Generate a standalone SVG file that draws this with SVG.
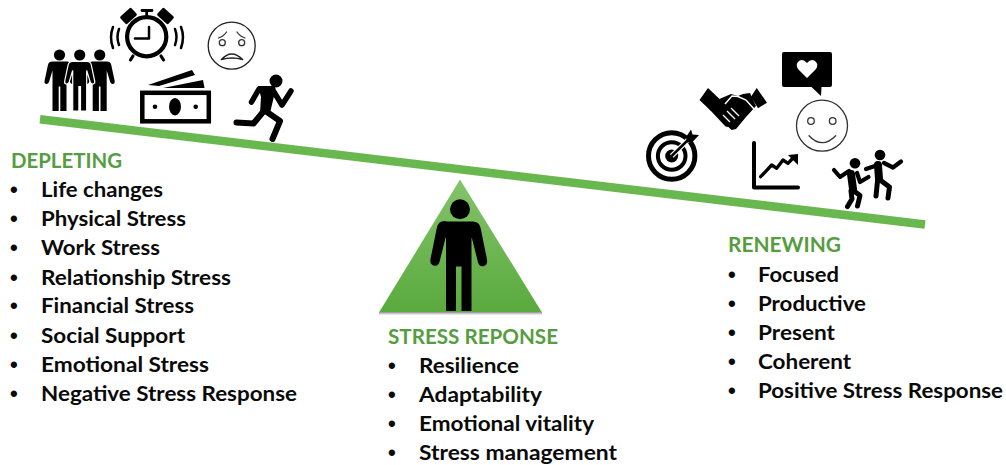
<svg xmlns="http://www.w3.org/2000/svg" width="1006" height="465" viewBox="0 0 1006 465">
<style>
text{font-family:Lato,"Liberation Sans",sans-serif;font-weight:700;font-size:20.5px;fill:#0a0a0a}
text.h{fill:#559d40}
text.b{font-family:"Liberation Sans",sans-serif;font-size:22px}
.k{fill:none;stroke:#000;stroke-linecap:round;stroke-linejoin:round}
.f{fill:#000}
.o{fill:none;stroke:#333;stroke-width:1.300;stroke-linecap:round}
</style>
<defs>
<linearGradient id="tg" x1="0" y1="0" x2="0" y2="1"><stop offset="0" stop-color="#84c36b"/><stop offset="1" stop-color="#5aaa3e"/></linearGradient>
<linearGradient id="ts" x1="0" y1="0" x2="0" y2="1"><stop offset="0" stop-color="#666" stop-opacity=".75"/><stop offset="1" stop-color="#999" stop-opacity="0"/></linearGradient>
<path id="man" d="M-7.500-15.500h15q3.200 0 4 3.200l3.500 16.300q.5 2.500-1.500 3t-3-2L7-6.500V34H.8V9.500H-.8V34H-7V-6.500L-10.500 5q-1 2.500-3 2t-1.500-3l3.500-16.300q.8-3.200 4.500-3.200z"/>
</defs>
<g id="beam"><path d="M40 119.300L925 224.500" stroke="#69b84f" stroke-width="8.500" fill="none"/></g>
<g id="people" class="f">
<circle cx="59.500" cy="55" r="5.600"/><circle cx="79.700" cy="55" r="5.600"/><circle cx="99.700" cy="55" r="5.600"/>
<use href="#man" x="59.500" y="77"/><use href="#man" x="99.700" y="77"/>
<use href="#man" x="79.700" y="77" stroke="#fff" stroke-width="1.200"/>
</g>
<g id="clock">
<circle cx="146.700" cy="36.700" r="19.600" fill="none" stroke="#000" stroke-width="4.200"/>
<path class="k" stroke-width="2.500" stroke-linecap="butt" d="M149 27V38.500H135"/>
<rect x="-7.500" y="-5" width="15" height="10" rx="1.500" transform="translate(128.500 16) rotate(-42)"/>
<rect x="-7.500" y="-5" width="15" height="10" rx="1.500" transform="translate(165.500 16) rotate(42)"/>
<path class="k" stroke-width="2.800" d="M146.700 15V11M142 10.500H152"/>
<path class="k" stroke-width="3.200" d="M133 56l-2.500 4M161 56l2.500 4"/>
<path class="k" stroke-width="2.500" d="M119 29q-3 8 0 16M113 27q-4 10 0 21M175 29q3 8 0 16M181 27q4 10 0 21"/>
</g>
<g id="sad-face">
<circle cx="231.700" cy="45.700" r="23.500" fill="#fff" stroke="#222" stroke-width="1.300"/>
<circle cx="222.300" cy="42.700" r="3" class="o"/><circle cx="241.700" cy="42.700" r="3" class="o"/>
<path class="o" d="M218.500 38q5-1.500 8-6M245 38q-5-1.500-8-6"/>
<path d="M221.500 59.500q10-11 21 0q-10.500-3-21 0z" fill="#fff" stroke="#222" stroke-width="1.700" stroke-linejoin="round"/>
</g>
<g id="money">
<path class="f" d="M148 85L192 70l3 5-36 11zM163 88L203 80l1.500 8z"/>
<rect x="142.300" y="92.800" width="66.500" height="28.500" fill="#fff" stroke="#000" stroke-width="4.500"/>
<ellipse cx="175" cy="106.700" rx="6" ry="8.700"/>
<circle cx="155" cy="106.700" r="2.300"/><circle cx="195.700" cy="106.700" r="2.300"/>
</g>
<g id="runner">
<circle cx="276" cy="81" r="6.500"/>
<path class="f" d="M258 86h14q4 0 3.500 4L270 113h-10l1-16z"/>
<path class="k" stroke-width="5.500" d="M259 89l-7.500 13M274 92l8 13 9-14"/>
<path class="k" stroke-width="6" d="M264 110L280 121 272.500 139M263 112L253.500 123.500 236.500 122.500"/>
</g>
<g id="person">
<path d="M379.300 312H541.700L460 179.500z" fill="url(#tg)"/>
<rect x="379" y="312" width="163" height="3.500" fill="url(#ts)"/>
<circle cx="460" cy="209.300" r="10"/>
<path d="M447 221.500h26q6 0 7.500 6l6.500 32q1 5-3 6.500t-6-3.500l-6-24q-.5-1.500-.5 0V311h-10v-44.500h-5.500V311h-10V238q0-1.500-.5 0l-6 24q-2 5-6 3.500t-3-6.500l6.500-32q1.500-6 7.500-6z"/>
</g>
<g id="target">
<circle cx="671.700" cy="156" r="23.200" fill="none" stroke="#000" stroke-width="5"/>
<circle cx="671.700" cy="156" r="13.800" fill="none" stroke="#000" stroke-width="4"/>
<circle cx="671.700" cy="156" r="6.500"/>
<path d="M671.700 156L690 138" stroke="#fff" stroke-width="5" fill="none"/>
<path class="k" stroke-width="2.500" d="M671.700 156L690 138"/>
<path class="f" d="M686 137l5-7.500 1.500 5 6.500.5-6.500 7-5.500 .5z"/>
</g>
<g id="handshake">
<path class="f" d="M708 88l-8.500 12 11.500 11 8.500-12zM756.700 88l10.300 14.700-9 5.500-7-11.500z"/>
<path class="f" d="M717 100l14-6 7 2 5-2 7-1 6 13-10 11-10 12-4.500 1-3-3-3-.5-15-16-4-5z"/>
<path d="M725 104l7-8 6 .5 8 3.500 8 9" fill="none" stroke="#fff" stroke-width="1.500"/>
<path d="M723 115l7 7M727 111l8 8M731 108l8 8" stroke="#fff" stroke-width="1.300" fill="none"/>
</g>
<g id="speech-heart">
<path class="f" d="M784 52h46q2 0 2 2V85q0 2-2 2h-8.500l-.5 9-9.500-9H784q-2 0-2-2V54q0-2 2-2z"/>
<path d="M807 78l-9-9q-3-5 1-8t8 2q4-5 8-2t1 8z" fill="#fff"/>
</g>
<g id="smile-face">
<circle cx="822" cy="125.700" r="25.500" fill="#fff" stroke="#333" stroke-width="1.300"/>
<circle cx="811" cy="121" r="3.300" class="o"/><circle cx="832.700" cy="121" r="3.300" class="o"/>
<path class="o" stroke-width="1.800" d="M809 135.700q13 14 26.700 0"/>
</g>
<g id="chart">
<path class="k" stroke-width="4" stroke-linecap="butt" stroke-linejoin="miter" d="M754 143V187.500H798"/>
<path class="k" stroke-width="3.300" stroke-linecap="butt" stroke-linejoin="miter" d="M760.700 176.700L771.700 165 776.700 168.300 783 160 788 163.300 794 157"/>
<path class="f" d="M788 155l10-1 0 11z"/>
</g>
<g id="dancers">
<circle cx="855" cy="163.300" r="5.300"/><circle cx="880" cy="155" r="5.300"/>
<path class="k" stroke-width="4.200" d="M834 170l6 7 9-6M857 173l3 9 8.500-5"/>
<path class="k" stroke-width="8" d="M851 174l2 15"/>
<path class="k" stroke-width="5" d="M851 191l1 8-4.500 7.500M854 191l6 4.500-2.500 10.500"/>
<path class="k" stroke-width="4.200" d="M866 169l9-3M884 163l9 4.500 8-6"/>
<path class="k" stroke-width="8" d="M878 165l1 14"/>
<path class="k" stroke-width="5" d="M877.500 181l-1.500 15M881.500 181l8 6-1.500 11"/>
</g>
<g id="depleting">
<text class="h" x="11" y="167.500" textLength="111" lengthAdjust="spacingAndGlyphs">DEPLETING</text>
<text class="b" x="10" y="197">•</text><text x="41" y="197" textLength="122" lengthAdjust="spacingAndGlyphs">Life changes</text>
<text class="b" x="10" y="226">•</text><text x="41" y="226" textLength="145" lengthAdjust="spacingAndGlyphs">Physical Stress</text>
<text class="b" x="10" y="255">•</text><text x="41" y="255" textLength="119" lengthAdjust="spacingAndGlyphs">Work Stress</text>
<text class="b" x="10" y="285">•</text><text x="41" y="285" textLength="190" lengthAdjust="spacingAndGlyphs">Relationship Stress</text>
<text class="b" x="10" y="313">•</text><text x="41" y="313" textLength="153" lengthAdjust="spacingAndGlyphs">Financial Stress</text>
<text class="b" x="10" y="343">•</text><text x="41" y="343" textLength="144" lengthAdjust="spacingAndGlyphs">Social Support</text>
<text class="b" x="10" y="372">•</text><text x="41" y="372" textLength="168" lengthAdjust="spacingAndGlyphs">Emotional Stress</text>
<text class="b" x="10" y="401">•</text><text x="41" y="401" textLength="256" lengthAdjust="spacingAndGlyphs">Negative Stress Response</text>
</g>
<g id="stress-response">
<text class="h" x="388" y="343.500" textLength="170" lengthAdjust="spacingAndGlyphs">STRESS REPONSE</text>
<text class="b" x="388" y="373">•</text><text x="419" y="373" textLength="100" lengthAdjust="spacingAndGlyphs">Resilience</text>
<text class="b" x="388" y="402">•</text><text x="419" y="402" textLength="123" lengthAdjust="spacingAndGlyphs">Adaptability</text>
<text class="b" x="388" y="431">•</text><text x="419" y="431" textLength="175" lengthAdjust="spacingAndGlyphs">Emotional vitality</text>
<text class="b" x="388" y="460">•</text><text x="419" y="460" textLength="198" lengthAdjust="spacingAndGlyphs">Stress management</text>
</g>
<g id="renewing">
<text class="h" x="728" y="252" textLength="113" lengthAdjust="spacingAndGlyphs">RENEWING</text>
<text class="b" x="728" y="282">•</text><text x="758" y="282" textLength="81" lengthAdjust="spacingAndGlyphs">Focused</text>
<text class="b" x="728" y="311">•</text><text x="758" y="311" textLength="108" lengthAdjust="spacingAndGlyphs">Productive</text>
<text class="b" x="728" y="340">•</text><text x="758" y="340" textLength="77" lengthAdjust="spacingAndGlyphs">Present</text>
<text class="b" x="728" y="369">•</text><text x="758" y="369" textLength="93" lengthAdjust="spacingAndGlyphs">Coherent</text>
<text class="b" x="728" y="398">•</text><text x="758" y="398" textLength="245" lengthAdjust="spacingAndGlyphs">Positive Stress Response</text>
</g>
</svg>
